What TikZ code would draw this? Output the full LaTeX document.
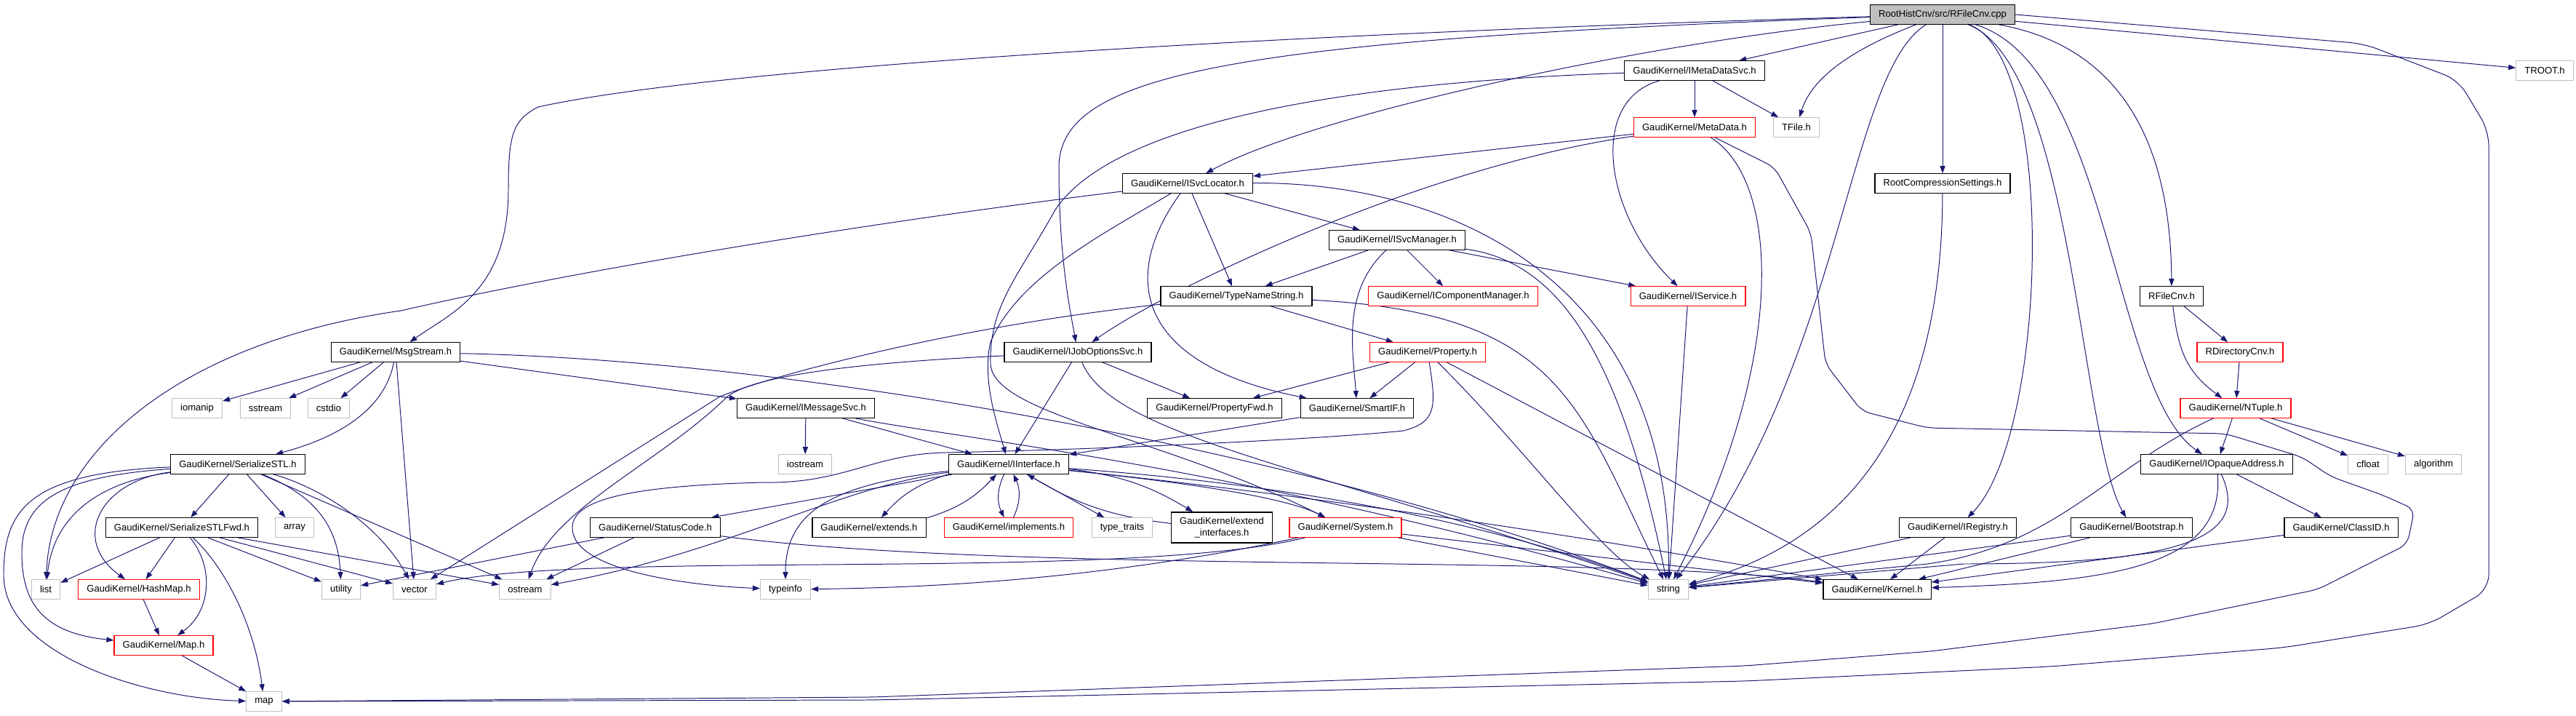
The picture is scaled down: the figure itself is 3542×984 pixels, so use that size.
\documentclass[tikz,border=0pt]{standalone}
\usepackage{fontspec}
\setmainfont{Liberation Sans}
\usetikzlibrary{arrows.meta,backgrounds}
\definecolor{edgeblue}{HTML}{191970}
\definecolor{sysgray}{HTML}{BFBFBF}
\begin{document}
\begin{tikzpicture}[x=0.025cm,y=-0.025cm,
  hdr/.style={draw=black,fill=white,line width=0.9pt,font=\fontsize{9.3}{11.3}\selectfont,inner xsep=0.29cm,inner ysep=2pt,minimum height=0.66cm},
  hdrred/.style={hdr,draw=red},
  stdhdr/.style={hdr,draw=sysgray},
  mainfile/.style={hdr,fill=sysgray},
  dep/.style={draw=edgeblue,line width=0.7pt,-{Triangle[length=0.25cm,width=0.18cm]}}]
\useasboundingbox (0,0) rectangle (3542,984);

\node[mainfile] (title)      at (2671,20)  {RootHistCnv/src/RFileCnv.cpp};
\node[stdhdr]   (troot)      at (3499,97)  {TROOT.h};
\node[hdr]      (imetasvc)   at (2330,97)  {GaudiKernel/IMetaDataSvc.h};
\node[stdhdr]   (tfile)      at (2470,175) {TFile.h};
\node[hdrred]   (metadata)   at (2330,175) {GaudiKernel/MetaData.h};
\node[hdr]      (svcloc)     at (1633,252) {GaudiKernel/ISvcLocator.h};
\node[hdr]      (rootcomp)   at (2671,252) {RootCompressionSettings.h};
\node[hdr]      (svcmgr)     at (1921,330) {GaudiKernel/ISvcManager.h};
\node[hdr]      (typename)   at (1700,407) {GaudiKernel/TypeNameString.h};
\node[hdrred]   (compmgr)    at (1998,407) {GaudiKernel/IComponentManager.h};
\node[hdrred]   (iservice)   at (2321,407) {GaudiKernel/IService.h};
\node[hdr]      (rfilecnv)   at (2986,407) {RFileCnv.h};
\node[hdr]      (msgstream)  at (544,484)  {GaudiKernel/MsgStream.h};
\node[hdr]      (joboptsvc)  at (1482,484) {GaudiKernel/IJobOptionsSvc.h};
\node[hdrred]   (property)   at (1963,484) {GaudiKernel/Property.h};
\node[hdrred]   (rdircnv)    at (3080,484) {RDirectoryCnv.h};
\node[stdhdr]   (iomanip)    at (271,561)  {iomanip};
\node[stdhdr]   (sstream)    at (365,561)  {sstream};
\node[stdhdr]   (cstdio)     at (452,561)  {cstdio};
\node[hdr]      (msgsvc)     at (1108,561) {GaudiKernel/IMessageSvc.h};
\node[hdr]      (propfwd)    at (1670,561) {GaudiKernel/PropertyFwd.h};
\node[hdr]      (smartif)    at (1866,561) {GaudiKernel/SmartIF.h};
\node[hdrred]   (ntuple)     at (3074,561) {GaudiKernel/NTuple.h};
\node[hdr]      (serstl)     at (327,638)  {GaudiKernel/SerializeSTL.h};
\node[stdhdr]   (iostream)   at (1107,638) {iostream};
\node[hdr]      (iiface)     at (1387,638) {GaudiKernel/IInterface.h};
\node[hdr]      (iopaque)    at (3048,638) {GaudiKernel/IOpaqueAddress.h};
\node[stdhdr]   (cfloat)     at (3256,638) {cfloat};
\node[stdhdr]   (algorithm)  at (3346,638) {algorithm};
\node[hdr]      (serstlfwd)  at (250,725)  {GaudiKernel/SerializeSTLFwd.h};
\node[stdhdr]   (array)      at (405,725)  {array};
\node[hdr]      (statuscode) at (901,725)  {GaudiKernel/StatusCode.h};
\node[hdr]      (extends)    at (1195,725) {GaudiKernel/extends.h};
\node[hdrred]   (implements) at (1387,725) {GaudiKernel/implements.h};
\node[stdhdr]   (typetraits) at (1543,725) {type\_traits};
\node[hdr,align=center,inner ysep=5pt] (extendif) at (1680,725) {GaudiKernel/extend\\\_interfaces.h};
\node[hdrred]   (system)     at (1850,725) {GaudiKernel/System.h};
\node[hdr]      (iregistry)  at (2692,725) {GaudiKernel/IRegistry.h};
\node[hdr]      (bootstrap)  at (2931,725) {GaudiKernel/Bootstrap.h};
\node[hdr]      (classid)    at (3219,725) {GaudiKernel/ClassID.h};
\node[stdhdr]   (lst)        at (63,810)   {list};
\node[hdrred]   (hashmap)    at (191,810)  {GaudiKernel/HashMap.h};
\node[stdhdr]   (utl)        at (469,810)  {utility};
\node[stdhdr]   (vec)        at (570,810)  {vector};
\node[stdhdr]   (ostr)       at (722,810)  {ostream};
\node[stdhdr]   (tinfo)      at (1080,810) {typeinfo};
\node[stdhdr]   (str)        at (2294,810) {string};
\node[hdr]      (kernel)     at (2581,810) {GaudiKernel/Kernel.h};
\node[hdrred]   (maph)       at (225,887)  {GaudiKernel/Map.h};
\node[stdhdr]   (mapstd)     at (363,964)  {map};

\begin{scope}[on background layer]
\draw[dep] (title) .. controls (1800,45) and (1000,90) .. (740,147) .. controls (705,165) and (699,185) .. (699,260) .. controls (699,400) and (620,430) .. (msgstream);
\draw[dep] (title) .. controls (1700,55) and (1456,100) .. (1456,230) .. controls (1456,350) and (1470,420) .. (joboptsvc);
\draw[dep] (title) .. controls (2250,60) and (1800,160) .. (svcloc);
\draw[dep] (title) -- (imetasvc);
\draw[dep] (title) .. controls (2540,70) and (2490,110) .. (tfile);
\draw[dep] (title) .. controls (2540,100) and (2535,500) .. (str);
\draw[dep] (title) -- (rootcomp);
\draw[dep] (title) .. controls (2830,80) and (2815,600) .. (iregistry);
\draw[dep] (title) .. controls (2850,90) and (2860,600) .. (bootstrap);
\draw[dep] (title) .. controls (2900,90) and (2905,540) .. (iopaque);
\draw[dep] (title) .. controls (2950,70) and (2985,250) .. (rfilecnv);
\draw[dep] (title) -- (troot);
\draw[dep,rounded corners=0.5cm] (title.east) -- (3250,60) -- (3380,110) -- (3422,180) -- (3422,810) -- (3340,858) -- (3140,890) -- (2820,916) -- (2400,936) -- (1200,962) -- (mapstd);

\draw[dep] (imetasvc) -- (metadata);
\draw[dep] (imetasvc) -- (tfile);
\draw[dep] (imetasvc) .. controls (2180,140) and (2210,300) .. (iservice);
\draw[dep] (imetasvc) .. controls (1800,115) and (1520,180) .. (1450,290) .. controls (1400,380) and (1360,420) .. (1362,500) .. controls (1365,570) and (1600,600) .. (system);

\draw[dep] (metadata) -- (svcloc);
\draw[dep] (metadata) .. controls (1950,230) and (1600,400) .. (joboptsvc);
\draw[dep] (metadata) .. controls (2450,250) and (2455,500) .. (str);
\draw[dep,rounded corners=0.3cm] (metadata) -- (2440,230) -- (2490,320) -- (2510,500) -- (2560,565) -- (2650,588) -- (3060,596) -- (3165,628) -- (3205,655) -- (3275,680) -- (3320,700) -- (3310,748) -- (3187,810) -- (2960,857) -- (2655,895) -- (2400,915) -- (1200,958) -- (mapstd);

\draw[dep] (svcloc) .. controls (1200,305) and (800,370) .. (551,427) .. controls (250,470) and (70,620) .. (lst);
\draw[dep] (svcloc) .. controls (1520,320) and (1400,380) .. (1362,470) .. controls (1350,520) and (1370,580) .. (iiface);
\draw[dep] (svcloc) .. controls (1540,380) and (1560,500) .. (smartif);
\draw[dep] (svcloc) -- (typename);
\draw[dep] (svcloc) -- (svcmgr);
\draw[dep] (svcloc) .. controls (2000,250) and (2300,390) .. (str);

\draw[dep] (svcmgr) -- (typename);
\draw[dep] (svcmgr) -- (compmgr);
\draw[dep] (svcmgr) -- (iservice);
\draw[dep] (svcmgr) .. controls (1845,400) and (1860,480) .. (smartif);
\draw[dep] (svcmgr) .. controls (2150,360) and (2230,500) .. (str);

\draw[dep] (typename) .. controls (1300,450) and (1050,520) .. (990,545) -- (vec);
\draw[dep] (typename) -- (property);
\draw[dep] (typename) .. controls (2150,430) and (2170,560) .. (str);

\draw[dep] (joboptsvc) .. controls (1150,500) and (1020,520) .. (995,550) .. controls (900,640) and (760,700) .. (ostr);
\draw[dep] (joboptsvc) -- (iiface);
\draw[dep] (joboptsvc) -- (propfwd);
\draw[dep] (joboptsvc) .. controls (1530,600) and (1800,640) .. (str);

\draw[dep] (property) -- (propfwd);
\draw[dep] (property) -- (smartif);
\draw[dep] (property) -- (kernel);
\draw[dep] (property) .. controls (2100,620) and (2200,760) .. (str);
\draw[dep] (property) .. controls (1975,560) and (1975,580) .. (1930,592) .. controls (1800,605) and (1500,618) .. (1300,622) .. controls (1200,624) and (1160,665) .. (1050,663) .. controls (850,668) and (785,690) .. (787,727) .. controls (790,785) and (950,805) .. (tinfo);

\draw[dep] (iservice) -- (str);
\draw[dep] (smartif) -- (iiface);

\draw[dep] (msgstream) -- (iomanip);
\draw[dep] (msgstream) -- (sstream);
\draw[dep] (msgstream) -- (cstdio);
\draw[dep] (msgstream) .. controls (530,560) and (470,600) .. (serstl);
\draw[dep] (msgstream) -- (vec);
\draw[dep] (msgstream) -- (msgsvc);
\draw[dep] (msgstream) .. controls (1100,495) and (1800,620) .. (str);

\draw[dep] (msgsvc) -- (iostream);
\draw[dep] (msgsvc) -- (iiface);
\draw[dep] (msgsvc) .. controls (1300,600) and (1700,640) .. (str);

\draw[dep] (serstl) .. controls (150,660) and (75,700) .. (lst);
\draw[dep] (serstl) .. controls (140,660) and (95,740) .. (hashmap);
\draw[dep] (serstl) .. controls (80,655) and (30,690) .. (30,760) .. controls (30,830) and (60,870) .. (maph);
\draw[dep] (serstl) .. controls (40,650) and (5,700) .. (5,790) .. controls (5,900) and (200,960) .. (mapstd);
\draw[dep] (serstl) -- (serstlfwd);
\draw[dep] (serstl) -- (array);
\draw[dep] (serstl) .. controls (430,680) and (465,720) .. (utl);
\draw[dep] (serstl) .. controls (440,670) and (520,720) .. (vec);
\draw[dep] (serstl) -- (ostr);

\draw[dep] (serstlfwd) -- (lst);
\draw[dep] (serstlfwd) -- (hashmap);
\draw[dep] (serstlfwd) .. controls (295,780) and (290,840) .. (maph);
\draw[dep] (serstlfwd) .. controls (310,780) and (350,860) .. (mapstd);
\draw[dep] (serstlfwd) -- (utl);
\draw[dep] (serstlfwd) -- (vec);
\draw[dep] (serstlfwd) -- (ostr);
\draw[dep] (hashmap) -- (maph);
\draw[dep] (maph) -- (mapstd);

\draw[dep] (iiface) to[bend right=15] (extends);
\draw[dep] (extends) to[bend right=15] (iiface);
\draw[dep] (iiface) to[bend right=25] (implements);
\draw[dep] (implements) to[bend right=25] (iiface);
\draw[dep] (iiface) -- (typetraits);
\draw[dep] (iiface) to[bend left=12] (extendif);
\draw[dep] (extendif) to[bend left=12] (iiface);
\draw[dep] (iiface) .. controls (1600,660) and (1760,680) .. (system);
\draw[dep] (iiface) -- (statuscode);
\draw[dep] (iiface) .. controls (1150,670) and (1000,760) .. (ostr);
\draw[dep] (iiface) .. controls (1150,665) and (1080,700) .. (tinfo);
\draw[dep] (iiface) .. controls (1700,660) and (2000,700) .. (str);
\draw[dep] (iiface) .. controls (1800,680) and (2200,740) .. (kernel);

\draw[dep] (statuscode) -- (utl);
\draw[dep] (statuscode) -- (ostr);
\draw[dep] (statuscode) .. controls (1400,790) and (2200,760) .. (kernel);

\draw[dep] (system) .. controls (1550,800) and (800,755) .. (vec);
\draw[dep] (system) .. controls (1500,800) and (1250,808) .. (tinfo);
\draw[dep] (system) -- (str);
\draw[dep] (system) -- (kernel);

\draw[dep] (rfilecnv) -- (rdircnv);
\draw[dep] (rfilecnv) .. controls (2995,480) and (3005,510) .. (ntuple);
\draw[dep] (rdircnv) -- (ntuple);
\draw[dep] (ntuple) -- (iopaque);
\draw[dep] (ntuple) -- (cfloat);
\draw[dep] (ntuple) -- (algorithm);
\draw[dep] (ntuple) .. controls (2900,640) and (2830,750) .. (2650,775) -- (str);
\draw[dep] (iopaque) -- (classid);
\draw[dep] (iopaque) .. controls (3060,780) and (2900,800) .. (kernel);
\draw[dep] (iopaque) .. controls (3095,740) and (3000,775) .. (2700,775) -- (str);
\draw[dep] (classid) -- (kernel);
\draw[dep] (iregistry) -- (kernel);
\draw[dep] (iregistry) -- (str);
\draw[dep] (bootstrap) -- (kernel);
\draw[dep] (bootstrap) -- (str);
\draw[dep] (rootcomp) .. controls (2670,560) and (2560,740) .. (str);
\end{scope}
\end{tikzpicture}
\end{document}
